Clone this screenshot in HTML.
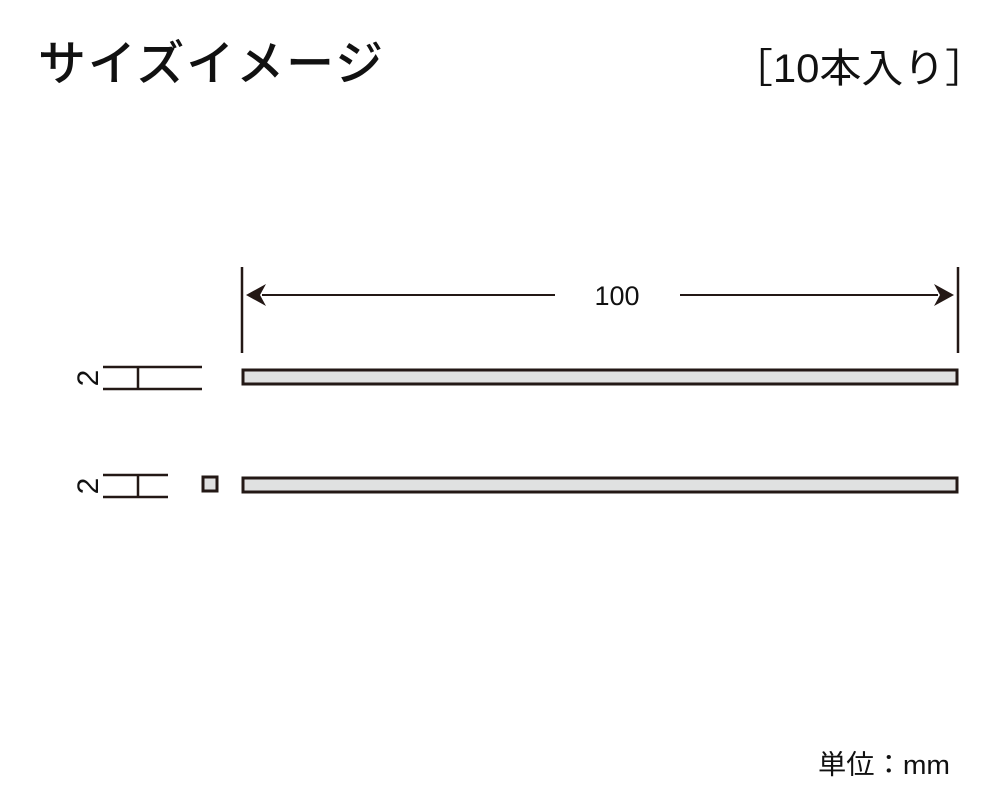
<!DOCTYPE html>
<html><head><meta charset="utf-8"><style>
body{margin:0;width:1000px;height:800px;background:#fff;overflow:hidden;font-family:"Liberation Sans","Noto Sans CJK JP",sans-serif;}
</style></head><body>
<svg width="1000" height="800" viewBox="0 0 1000 800" xmlns="http://www.w3.org/2000/svg">
<g font-family="Liberation Sans, Noto Sans CJK JP, sans-serif" fill="#111">
<text x="38" y="80" font-size="48" font-weight="500" letter-spacing="2" textLength="347" lengthAdjust="spacingAndGlyphs">サイズイメージ</text>
<text x="731" y="82" font-size="40" textLength="256" lengthAdjust="spacingAndGlyphs">［10本入り］</text>
<text x="617" y="305" font-size="27" text-anchor="middle">100</text>
<text x="818" y="774" font-size="27" textLength="132" lengthAdjust="spacingAndGlyphs">単位：mm</text>
<text transform="translate(98,378) rotate(-90)" font-size="30" text-anchor="middle">2</text>
<text transform="translate(98,486) rotate(-90)" font-size="30" text-anchor="middle">2</text>
</g>
<g stroke="#231815" stroke-width="2.5" fill="none">
<line x1="242" y1="267" x2="242" y2="353"/>
<line x1="958" y1="267" x2="958" y2="353"/>
<line x1="262" y1="295" x2="555" y2="295" stroke-width="2"/>
<line x1="680" y1="295" x2="938" y2="295" stroke-width="2"/>
<line x1="103" y1="367" x2="202" y2="367"/>
<line x1="103" y1="389" x2="202" y2="389"/>
<line x1="138" y1="367" x2="138" y2="389"/>
<line x1="103" y1="475" x2="168" y2="475"/>
<line x1="103" y1="497" x2="168" y2="497"/>
<line x1="138" y1="475" x2="138" y2="497"/>
</g>
<path d="M246 295 L266 284 L260 295 L266 306 Z" fill="#231815"/>
<path d="M954 295 L934 284 L940 295 L934 306 Z" fill="#231815"/>
<g fill="#e0e1e1" stroke="#231815" stroke-width="3">
<rect x="243" y="370" width="714" height="14"/>
<rect x="243" y="478" width="714" height="14"/>
<rect x="203" y="477" width="14" height="14"/>
</g>
</svg>
</body></html>
